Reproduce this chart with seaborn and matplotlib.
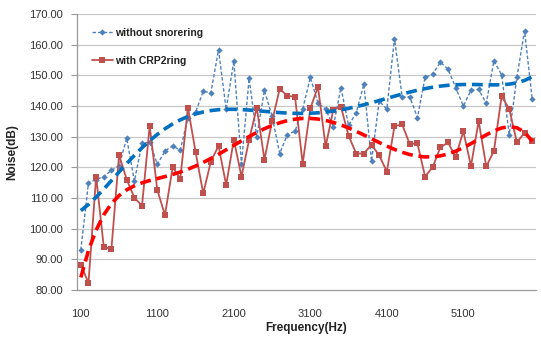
import numpy as np
import pandas as pd
import matplotlib
matplotlib.use("Agg")
import matplotlib.pyplot as plt
import seaborn as sns

freq = list(range(100, 6001, 100))
without_snorering = [93, 115, 116, 117, 119, 120.5, 129.5, 115.5, 127.8, 128.2,
                     121, 125.3, 127, 125.6, 136.2, 138, 144.8, 144.3, 158.3, 138.9,
                     154.7, 121, 149, 130, 145.1, 136.7, 124.5, 130.7, 131.8, 139,
                     149.3, 141, 139, 133.3, 146, 133.7, 137.8, 147.1, 122, 141.6,
                     139, 162, 143, 143, 136.2, 149.3, 150.4, 154.3, 152, 146,
                     140, 145.1, 145.4, 140.9, 154.7, 150.2, 130.7, 149.3, 164.5, 142.4]
with_crp2ring = [88.3, 82.3, 117, 94, 93.4, 124, 116, 110.1, 107.5, 133.5,
                 112.6, 104.4, 120, 116.3, 139.5, 125, 111.5, 121.9, 127, 114.2,
                 129, 117, 129, 139.5, 122.5, 135, 145.6, 143.3, 143, 121.2,
                 139.2, 146.3, 126.8, 138.7, 139.8, 130.3, 124.5, 124.5, 127.4, 123.9,
                 118.6, 133.4, 134, 127.6, 127.8, 117, 120.1, 126.5, 128.1, 123.4,
                 131.8, 120.4, 135.1, 120.3, 125.3, 143.1, 139.1, 128.1, 131.3, 128.5]
xtick_labels = [100, 1100, 2100, 3100, 4100, 5100]
ytick_values = list(range(80, 171, 10))

sns.set_theme(style="white")
plt.rcParams['font.family'] = ['Liberation Sans', 'DejaVu Sans']

df = pd.DataFrame({"freq": freq, "without": without_snorering, "with": with_crp2ring})

# polynomial trend lines (order 6) computed from the data
x = np.array(freq, dtype=float)
df["trend_without"] = np.polynomial.Polynomial.fit(x, df["without"].values, 6)(x)
df["trend_with"] = np.polynomial.Polynomial.fit(x, df["with"].values, 6)(x)

fig = plt.figure(figsize=(5.41, 3.43), dpi=100)
ax = fig.add_axes([77/541, 1 - 290/343, 459/541, 276/343])

grid_c = "#C8C8C8"
for v in ytick_values[1:]:
    ax.axhline(v, color=grid_c, lw=0.9, zorder=0)

blue = "#4F81BD"
red = "#C0504D"
sns.lineplot(data=df, x="freq", y="without", ax=ax, color=blue, lw=1.0,
             linestyle=(0, (2.5, 1.5)), marker="D", markersize=3.2,
             markeredgewidth=0, label="without snorering", zorder=3)
sns.lineplot(data=df, x="freq", y="with", ax=ax, color=red, lw=1.3,
             marker="s", markersize=4.6, markeredgewidth=0,
             label="with CRP2ring", zorder=4)
sns.lineplot(data=df, x="freq", y="trend_without", ax=ax, color="#0070C0", lw=2.6,
             linestyle=(0, (3, 1.6)), zorder=5, legend=False)
sns.lineplot(data=df, x="freq", y="trend_with", ax=ax, color="#FF0000", lw=2.6,
             linestyle=(0, (3, 1.6)), zorder=6, legend=False)

ax.set_xlim(50, 6050)
ax.set_ylim(80, 170)
ax.set_yticks(ytick_values)
ax.set_yticklabels([f"{v:.2f}" for v in ytick_values], fontsize=8, color="#333333")
ax.set_xticks(xtick_labels)
ax.set_xticklabels([str(v) for v in xtick_labels], fontsize=8, color="#333333")
ax.set_xticks([50 + 1000 * k for k in range(7)], minor=True)
ax.tick_params(axis="x", which="major", length=0, pad=14)
ax.tick_params(axis="x", which="minor", length=4, color="#999999", width=0.8, direction="out")
ax.tick_params(axis="y", which="major", length=4, color="#999999", width=0.8, pad=6, left=True)

for s in ["top", "right"]:
    ax.spines[s].set_visible(False)
for s in ["left", "bottom"]:
    ax.spines[s].set_color("#999999")
    ax.spines[s].set_linewidth(0.9)

ax.set_xlabel("Frequency(Hz)", fontsize=8.5, fontweight="bold", color="#222222")
ax.set_ylabel("Noise(dB)", fontsize=8.5, fontweight="bold", color="#222222")
ax.xaxis.set_label_coords(0.5, -0.115)
ax.yaxis.set_label_coords(-0.128, 0.5)

leg = ax.legend(loc="upper left", bbox_to_anchor=(0.012, 0.985), frameon=False,
                fontsize=7.5, labelspacing=1.75, handlelength=2.0, handletextpad=0.25)
for t in leg.get_texts():
    t.set_fontweight("bold")
    t.set_color("#222222")

fig.savefig("out.png", dpi=100)
